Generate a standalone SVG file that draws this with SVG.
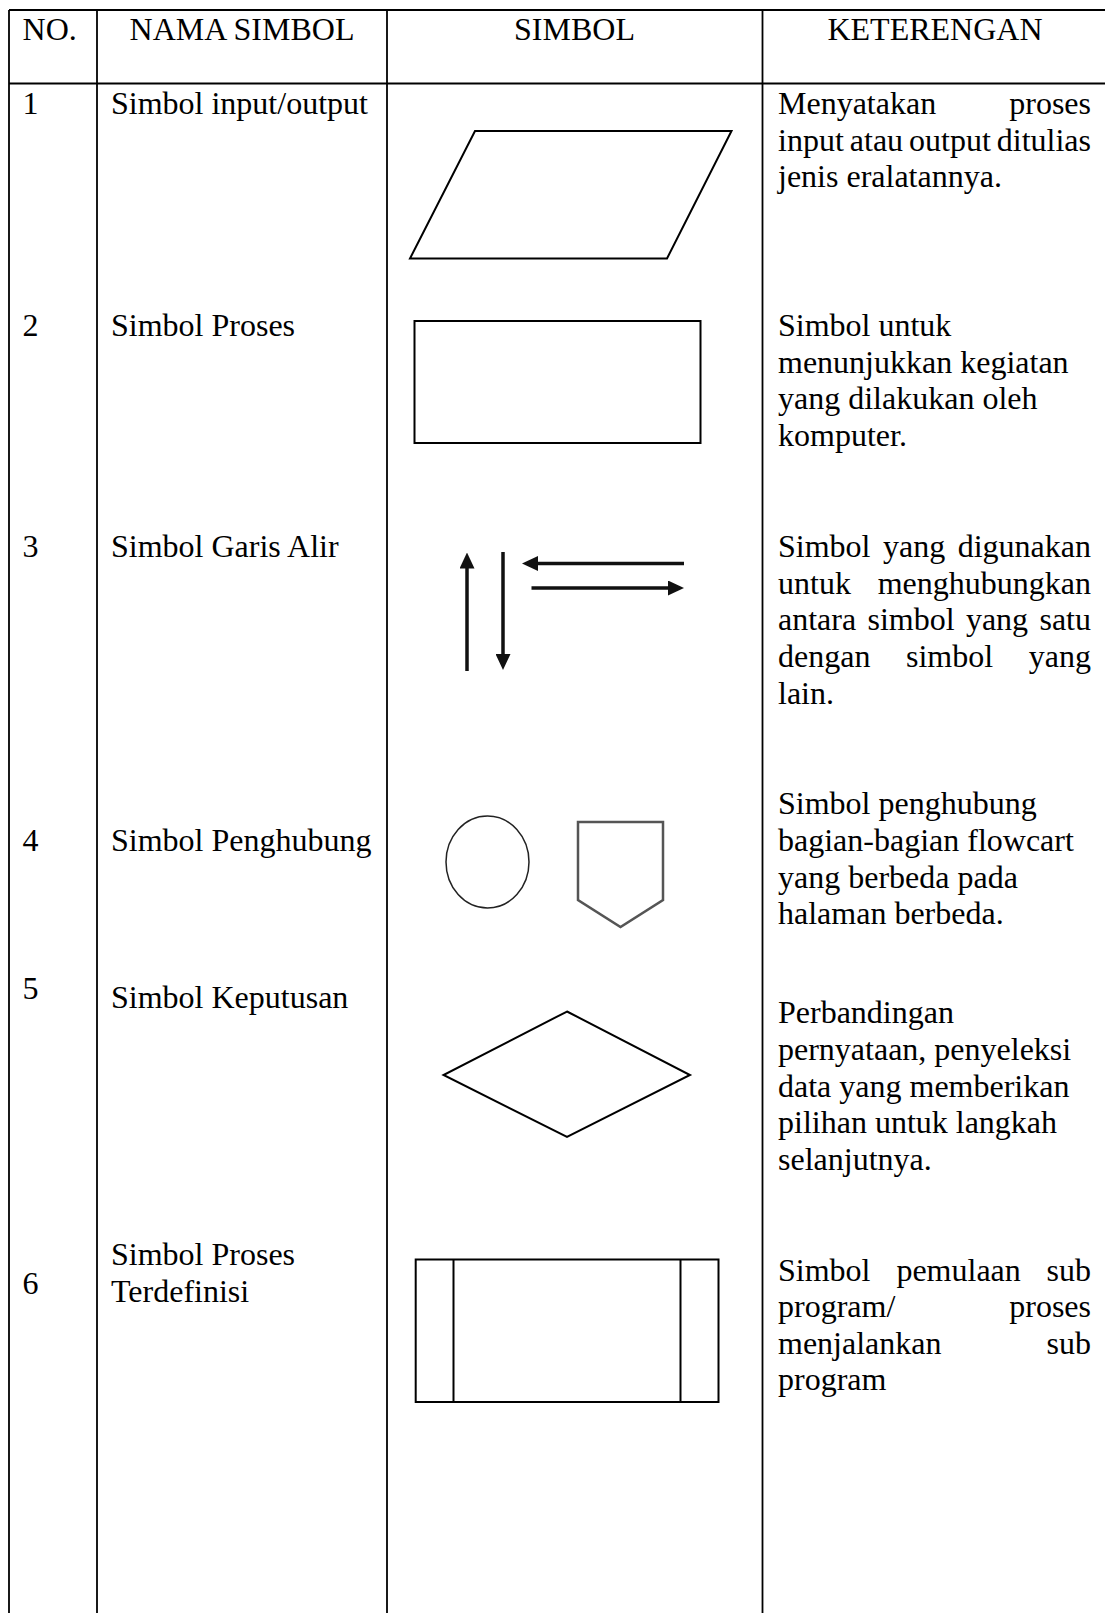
<svg xmlns="http://www.w3.org/2000/svg" width="1105" height="1613" viewBox="0 0 1105 1613">
  <style>
    .t { font-family: "Liberation Serif", "Times New Roman", serif; font-size: 32px; fill: #000; }
    .mid { text-anchor: middle; }
    .end { text-anchor: end; }
    .grid { stroke: #000; stroke-width: 1.8; fill: none; }
    .shape { stroke: #000; stroke-width: 2; fill: #fff; }
    .flow { stroke: #111; stroke-width: 3.5; fill: none; marker-end: url(#head); }
  </style>
  <defs>
    <marker id="head" viewBox="0 0 16 15" refX="6" refY="7.5" markerWidth="16" markerHeight="15" markerUnits="userSpaceOnUse" orient="auto">
      <path d="M0,0 L16,7.5 L0,15 Z" fill="#111"/>
    </marker>
  </defs>
  <rect width="1105" height="1613" fill="#fff"/>

  <!-- table grid -->
  <g id="grid" class="grid">
    <line x1="9" y1="10" x2="1105" y2="10"/>
    <line x1="9" y1="83.5" x2="1105" y2="83.5"/>
    <line x1="9" y1="10" x2="9" y2="1613"/>
    <line x1="97" y1="10" x2="97" y2="1613"/>
    <line x1="387" y1="10" x2="387" y2="1613"/>
    <line x1="762.5" y1="10" x2="762.5" y2="1613"/>
  </g>

  <!-- header row -->
  <g id="header" class="t">
    <text x="22.6" y="39.8">NO.</text>
    <text x="242" y="39.8" class="mid">NAMA SIMBOL</text>
    <text x="574.5" y="39.8" class="mid">SIMBOL</text>
    <text x="935" y="39.8" class="mid">KETERENGAN</text>
  </g>

  <!-- 1: input/output -->
  <g id="row-1">
    <text class="t" x="22.6" y="114">1</text>
    <text class="t" x="111" y="114">Simbol input/output</text>
    <polygon id="io-symbol" class="shape" points="475,131 731.5,131 667,258.5 410,258.5"/>
    <text class="t" y="114"><tspan x="778">Menyatakan</tspan><tspan x="1091" class="end">proses</tspan></text>
    <text class="t" y="150.6"><tspan x="778">input</tspan><tspan x="849.8">atau</tspan><tspan x="909.1">output</tspan><tspan x="1091" class="end">ditulias</tspan></text>
    <text class="t" x="778" y="187.2">jenis eralatannya.</text>
  </g>

  <!-- 2: process -->
  <g id="row-2">
    <text class="t" x="22.6" y="336">2</text>
    <text class="t" x="111" y="336">Simbol Proses</text>
    <rect id="process-symbol" class="shape" x="414.5" y="321" width="286" height="122"/>
    <text class="t" x="778" y="336">Simbol untuk</text>
    <text class="t" x="778" y="372.6">menunjukkan kegiatan</text>
    <text class="t" x="778" y="409.2">yang dilakukan oleh</text>
    <text class="t" x="778" y="445.8">komputer.</text>
  </g>

  <!-- 3: flow lines -->
  <g id="row-3">
    <text class="t" x="22.6" y="557.2">3</text>
    <text class="t" x="111" y="557.2">Simbol Garis Alir</text>
    <text class="t" y="557.2"><tspan x="778">Simbol</tspan><tspan x="883">yang</tspan><tspan x="1091" class="end">digunakan</tspan></text>
    <text class="t" y="593.8"><tspan x="778">untuk</tspan><tspan x="1091" class="end">menghubungkan</tspan></text>
    <text class="t" y="630.4"><tspan x="778">antara</tspan><tspan x="867.5">simbol</tspan><tspan x="965.9">yang</tspan><tspan x="1091" class="end">satu</tspan></text>
    <text class="t" y="667"><tspan x="778">dengan</tspan><tspan x="906">simbol</tspan><tspan x="1091" class="end">yang</tspan></text>
    <text class="t" x="778" y="703.6">lain.</text>
  </g>

  <!-- flow-line arrows -->
  <g id="connectors">
    <line class="flow" x1="467" y1="671" x2="467" y2="562.5"/>
    <line class="flow" x1="503" y1="552" x2="503" y2="660"/>
    <line class="flow" x1="684" y1="563.5" x2="532" y2="563.5"/>
    <line class="flow" x1="531.5" y1="588" x2="674" y2="588"/>
  </g>

  <!-- 4: connectors (on-page / off-page) -->
  <g id="row-4">
    <text class="t" x="22.6" y="851">4</text>
    <text class="t" x="111" y="851">Simbol Penghubung</text>
    <ellipse id="on-page-connector" cx="487.5" cy="862" rx="41.5" ry="46" fill="#fff" stroke="#222" stroke-width="1.5"/>
    <path id="off-page-connector" d="M578,822 H663 V900 L620.5,927 L578,900 Z" fill="#fff" stroke="#555" stroke-width="2.5" stroke-linejoin="miter"/>
    <text class="t" x="778" y="814.4">Simbol penghubung</text>
    <text class="t" x="778" y="851">bagian-bagian flowcart</text>
    <text class="t" x="778" y="887.6">yang berbeda pada</text>
    <text class="t" x="778" y="924.2">halaman berbeda.</text>
  </g>

  <!-- 5: decision -->
  <g id="row-5">
    <text class="t" x="22.6" y="999">5</text>
    <text class="t" x="111" y="1007.8">Simbol Keputusan</text>
    <polygon id="decision-symbol" class="shape" points="567,1011.5 690,1075 567,1137 443.5,1075"/>
    <text class="t" x="778" y="1023.3">Perbandingan</text>
    <text class="t" x="778" y="1059.9">pernyataan, penyeleksi</text>
    <text class="t" x="778" y="1096.5">data yang memberikan</text>
    <text class="t" x="778" y="1133.1">pilihan untuk langkah</text>
    <text class="t" x="778" y="1169.7">selanjutnya.</text>
  </g>

  <!-- 6: predefined process -->
  <g id="row-6">
    <text class="t" x="22.6" y="1294">6</text>
    <text class="t" x="111" y="1265">Simbol Proses</text>
    <text class="t" x="111" y="1301.6">Terdefinisi</text>
    <g id="predefined-symbol" class="shape">
      <rect x="415.7" y="1259.5" width="302.8" height="142.5"/>
      <line x1="453.5" y1="1259.5" x2="453.5" y2="1402"/>
      <line x1="680.5" y1="1259.5" x2="680.5" y2="1402"/>
    </g>
    <text class="t" y="1280.5"><tspan x="778">Simbol</tspan><tspan x="896.4">pemulaan</tspan><tspan x="1091" class="end">sub</tspan></text>
    <text class="t" y="1317.1"><tspan x="778">program/</tspan><tspan x="1091" class="end">proses</tspan></text>
    <text class="t" y="1353.7"><tspan x="778">menjalankan</tspan><tspan x="1091" class="end">sub</tspan></text>
    <text class="t" x="778" y="1390.3">program</text>
  </g>
</svg>
